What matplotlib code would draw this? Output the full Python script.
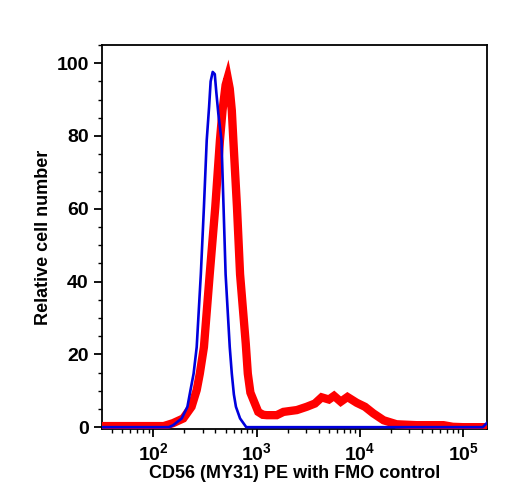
#!/usr/bin/env python
import numpy as np
import matplotlib
matplotlib.use('Agg')
import matplotlib.pyplot as plt
from matplotlib import rcParams
from matplotlib.ticker import LogLocator, MultipleLocator, FuncFormatter, NullFormatter

# log10 of fluorescence intensity, and relative cell number
fmo_log = [1.5, 2.15, 2.19, 2.275, 2.33, 2.36, 2.39, 2.42, 2.46, 2.49, 2.517,
           2.54, 2.555, 2.575, 2.595, 2.61, 2.63, 2.66, 2.68, 2.70, 2.74, 2.76,
           2.78, 2.80, 2.84, 2.90, 3.5, 4.5, 5.19, 5.232]
fmo_count = [0, 0, 0.5, 2.4, 5.6, 10.2, 14.7, 22, 42, 60.5, 78.8,
             88, 95, 97.6, 97, 92, 86, 78.8, 60.5, 42, 22, 14.7,
             9, 5.6, 2.4, 0, 0, 0, 0, 1.2]

cd56_log = [1.5, 2.1, 2.19, 2.29, 2.37, 2.42, 2.45, 2.49, 2.546, 2.60, 2.645,
            2.67, 2.70, 2.72, 2.74, 2.76, 2.775, 2.81, 2.84, 2.895, 2.915,
            2.94, 2.97, 3.016, 3.06, 3.10, 3.195, 3.26, 3.39, 3.485, 3.565,
            3.63, 3.70, 3.75, 3.815, 3.88, 3.97, 4.05, 4.13, 4.23, 4.355, 4.55,
            4.81, 4.90, 5.0, 5.232]
cd56_count = [0.3, 0.3, 1.1, 2.4, 5.6, 10.2, 14.7, 22, 42, 60.5, 78.8,
              87, 94, 96, 93, 87, 78.8, 60.5, 42, 23, 14.7,
              9.5, 7.4, 4.2, 3.4, 3.3, 3.3, 4.2, 4.7, 5.6, 6.5,
              8.2, 7.6, 8.6, 7.0, 8.3, 6.7, 5.6, 3.8, 1.9, 0.8, 0.55,
              0.55, 0.1, 0, 0]

y_ticks = [0, 20, 40, 60, 80, 100]


def main():
    rcParams['font.family'] = ['Liberation Sans', 'DejaVu Sans']
    rcParams['font.weight'] = 'bold'
    rcParams['mathtext.fontset'] = 'custom'
    rcParams['mathtext.rm'] = 'Liberation Sans:bold'
    rcParams['mathtext.bf'] = 'Liberation Sans:bold'
    rcParams['mathtext.default'] = 'bf'

    fig = plt.figure(figsize=(5.08, 5.0), dpi=100)
    ax = fig.add_axes([0.2008, 0.142, 0.758, 0.768])

    ax.plot(10 ** np.array(cd56_log), cd56_count, color='#ff0000', lw=6,
            solid_joinstyle='miter', zorder=3)
    ax.plot(10 ** np.array(fmo_log), fmo_count, color='#0000dd', lw=1.9, zorder=4)

    ax.set_xscale('log')
    ax.set_xlim(10 ** 1.503, 10 ** 5.232)
    ax.set_ylim(-0.5, 105)

    ax.xaxis.set_major_locator(LogLocator(base=10, numticks=10))
    ax.xaxis.set_minor_locator(LogLocator(base=10, subs=np.arange(2, 10), numticks=20))
    ax.xaxis.set_major_formatter(FuncFormatter(lambda v, p: r'$10^{%d}$' % round(np.log10(v))))
    ax.xaxis.set_minor_formatter(NullFormatter())
    ax.set_yticks(y_ticks)
    ax.yaxis.set_minor_locator(MultipleLocator(5))

    ax.tick_params(which='major', direction='out', length=6, width=1.3, labelsize=14)
    ax.tick_params(which='minor', direction='out', length=3, width=1.0)
    ax.tick_params(top=False, right=False, which='both')
    for s in ax.spines.values():
        s.set_linewidth(1.3)

    ax.set_xlabel('CD56 (MY31) PE with FMO control', fontsize=13, fontweight='bold', labelpad=1)
    ax.set_ylabel('Relative cell number', fontsize=13, fontweight='bold', labelpad=3)

    fig.savefig('out.png', dpi=100)


if __name__ == '__main__':
    main()
